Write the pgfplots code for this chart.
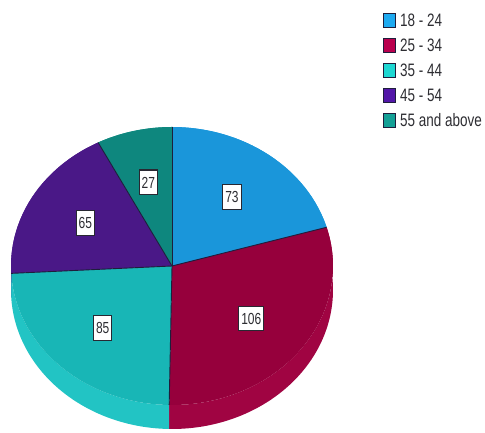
\documentclass[border=0pt]{standalone}
\usepackage{fontspec}
\setmainfont{Liberation Sans}[FakeStretch=0.75]
\usepackage{pgfplots}
\usepackage{pgfplotstable}
\pgfplotsset{compat=1.18}

% pie colours (top faces)
\definecolor{c0}{RGB}{26,150,218}
\definecolor{c1}{RGB}{150,0,60}
\definecolor{c2}{RGB}{24,182,182}
\definecolor{c3}{RGB}{74,24,135}
\definecolor{c4}{RGB}{14,135,126}
% side walls
\definecolor{s0}{RGB}{34,158,224}
\definecolor{s1}{RGB}{160,4,66}
\definecolor{s2}{RGB}{34,196,196}
\definecolor{s3}{RGB}{82,32,145}
\definecolor{s4}{RGB}{20,145,135}
% legend swatches
\definecolor{l0}{RGB}{30,170,240}
\definecolor{l1}{RGB}{185,0,78}
\definecolor{l2}{RGB}{30,215,210}
\definecolor{l3}{RGB}{82,22,168}
\definecolor{l4}{RGB}{20,160,150}
\definecolor{edge}{RGB}{30,30,60}
\definecolor{boxline}{RGB}{40,40,50}
\definecolor{labtext}{RGB}{45,45,50}

\pgfplotstableread[col sep=comma]{
label,value
18 - 24,73
25 - 34,106
35 - 44,85
45 - 54,65
55 and above,27
}\piedata

\begin{document}
\begin{tikzpicture}
% --- angles from the data (clockwise from 12 o'clock) ---
\def\total{0}
\pgfplotsforeachungrouped \i in {0,...,4}{%
  \pgfplotstablegetelem{\i}{value}\of\piedata
  \pgfmathsetmacro\total{\total+\pgfplotsretval}}
\def\cum{0}
\pgfplotsforeachungrouped \i in {0,...,4}{%
  \pgfplotstablegetelem{\i}{value}\of\piedata
  \expandafter\edef\csname val\i\endcsname{\pgfplotsretval}%
  \expandafter\edef\csname sa\i\endcsname{\cum}%
  \pgfmathsetmacro\cum{\cum+\pgfplotsretval/\total*360}%
  \expandafter\edef\csname ea\i\endcsname{\cum}%
  \pgfmathsetmacro\tmp{(\csname sa\i\endcsname+\cum)/2}%
  \expandafter\edef\csname ma\i\endcsname{\tmp}%
  \pgfplotstablegetelem{\i}{label}\of\piedata
  \expandafter\edef\csname lab\i\endcsname{\pgfplotsretval}%
}
\path[use as bounding box] (0,0) rectangle (485pt,433pt);
\begin{axis}[at={(0,0)}, anchor=south west,
  width=485pt, height=433pt, scale only axis,
  xmin=0, xmax=485, ymin=0, ymax=433,
  hide axis, clip=false]
% side walls
\pgfplotsinvokeforeach{0,...,4}{
  \fill[s#1] plot[domain=\csname sa#1\endcsname:\csname ea#1\endcsname, samples=80, variable=\t]
      ({172+161*sin(\t)},{167+139*cos(\t)})
    -- plot[domain=\csname ea#1\endcsname:\csname sa#1\endcsname, samples=80, variable=\t]
      ({172+161*sin(\t)},{143+139*cos(\t)}) -- cycle;
}
% top faces
\pgfplotsinvokeforeach{0,...,4}{
  \fill[c#1] (172,167) -- plot[domain=\csname sa#1\endcsname:\csname ea#1\endcsname, samples=80, variable=\t]
      ({172+161*sin(\t)},{167+139*cos(\t)}) -- cycle;
}
% radial separators
\pgfplotsinvokeforeach{0,...,4}{
  \draw[edge, line width=0.9pt] (172,167) -- ({172+161*sin(\csname sa#1\endcsname)},{167+139*cos(\csname sa#1\endcsname)});
}
% value labels
\pgfplotsinvokeforeach{0,...,4}{
  \node[draw=boxline, line width=1.1pt, fill=white, text=labtext,
        inner xsep=2.5pt, inner ysep=6.5pt, text height=11.5pt, text depth=0pt,
        font=\fontsize{16}{16}\selectfont]
    at ({172+0.62*161*sin(\csname ma#1\endcsname)},{167+0.62*139*cos(\csname ma#1\endcsname)})
    {\csname val#1\endcsname};
}
% legend
\pgfplotsinvokeforeach{0,...,4}{
  \draw[fill=l#1, draw=edge, line width=0.9pt] (383.5,{433-20-25*#1-7}) rectangle (395.5,{433-20-25*#1+7});
  \node[anchor=west, inner sep=0pt, text=labtext, font=\fontsize{18}{18}\selectfont]
    at (400,{433-20-25*#1}) {\csname lab#1\endcsname};
}
\end{axis}
\end{tikzpicture}
\end{document}
